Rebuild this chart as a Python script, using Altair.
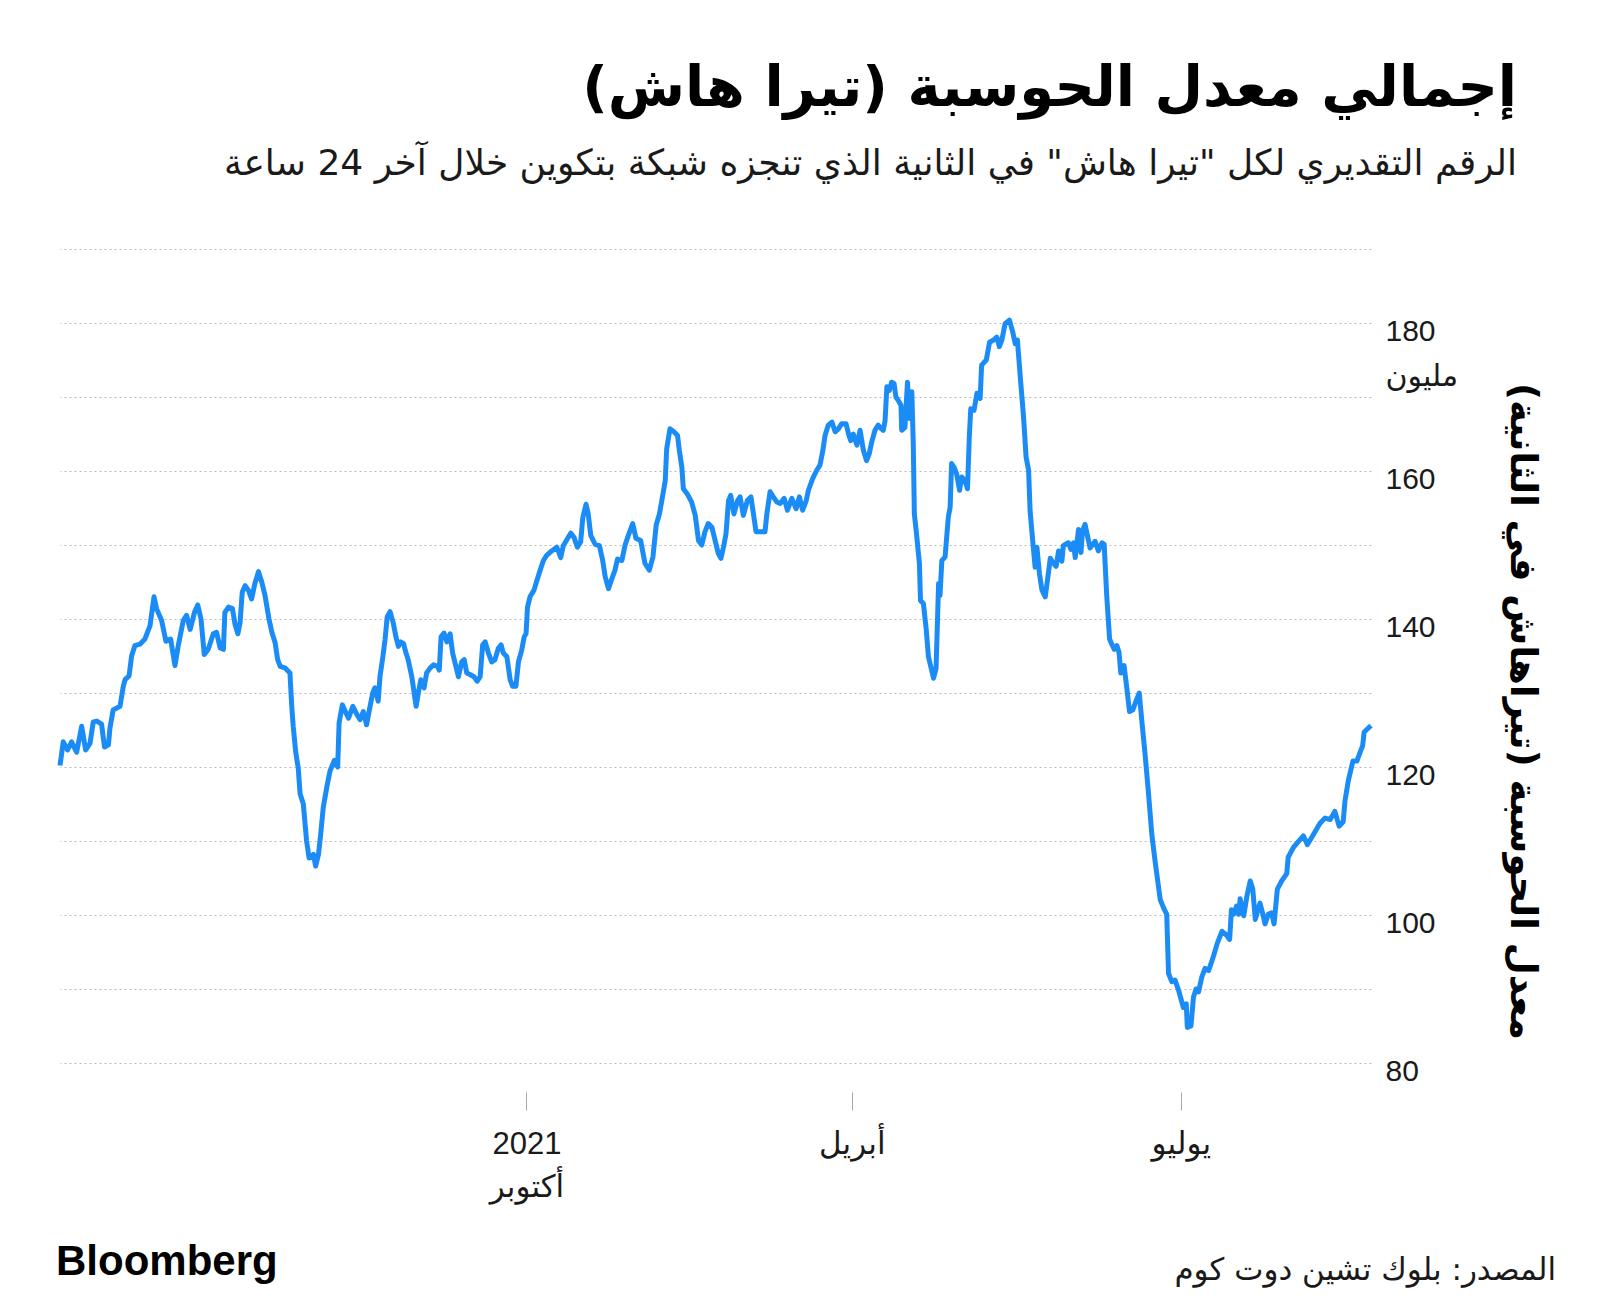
import altair as alt
import pandas as pd

# ---- data ----
START = "2020-08-25"
DAYS = [
    0.0, 0.9, 2.1, 3.2, 4.6, 6.0, 7.1, 8.3, 9.2, 10.2, 11.5, 12.3, 13.4, 13.8, 14.7, 16.6, 17.5, 18.0, 19.1, 19.8,
    20.7, 22.1, 23.5, 24.9, 26.0, 26.7, 28.1, 29.3, 30.6, 31.8, 32.7, 34.1, 35.0, 36.0, 37.2, 38.1, 39.0, 39.9, 41.0,
    42.4, 43.3, 44.3, 45.2, 45.6, 46.6, 47.7, 48.4, 49.2, 49.8, 50.4, 51.2, 52.1, 53.0, 53.9, 54.9, 55.8, 56.7, 57.8,
    58.6, 59.5, 60.2, 60.9, 62.2, 63.6, 64.1, 64.5, 65.2, 65.9, 66.4, 67.3, 68.2, 68.9, 70.1, 70.7, 71.5, 72.1, 72.8,
    73.8, 74.7, 75.9, 76.8, 77.2, 78.1,
    79.1, 79.8, 81.0, 82.1, 83.0, 83.9, 84.8, 85.6, 86.5, 87.1, 88.0, 88.5, 89.3, 89.9, 90.5, 91.3, 92.2, 92.9, 93.6,
    94.2, 95.0, 95.7, 96.3, 97.3, 98.5, 99.1, 99.8, 100.7, 101.4, 102.4, 103.3, 104.4, 104.9, 105.4, 106.2, 107.0,
    107.9, 108.6, 109.5, 110.2, 111.1, 111.8, 112.5, 113.4, 114.5, 115.4, 116.2, 116.9, 117.6, 118.5, 119.4, 120.3,
    121.2, 122.0, 122.6, 123.6, 124.5, 125.2, 126.1, 126.8, 127.7, 128.4, 128.9, 129.3, 130.0, 131.1, 131.9, 132.8,
    133.7, 134.6, 136.0, 137.4, 138.5, 139.2, 140.3, 141.3, 142.2, 143.1, 144.0, 144.6, 145.5, 146.1, 146.8, 148.0,
    149.2, 150.1, 150.8, 151.7, 152.6, 153.5, 154.2,
    155.4, 156.3, 157.2, 158.4, 159.3, 160.6, 161.8, 163.0, 164.0, 164.9, 165.8, 166.7, 167.4, 167.8, 168.7, 169.8,
    170.8, 171.3, 172.0, 172.4, 173.5, 174.7, 175.7, 176.6, 177.5, 178.4, 179.3, 180.3, 181.2, 182.1, 182.8, 183.5,
    184.2, 184.9, 185.5, 186.4, 187.4, 188.1, 189.0, 190.1, 191.1, 191.8, 192.5, 193.4, 195.0, 195.5, 196.4, 197.3,
    198.3, 199.2, 200.3, 201.2, 202.4, 203.6, 204.5, 205.4, 206.4, 207.0, 208.2, 209.3, 210.2, 211.0, 211.6, 212.5,
    213.5, 214.4, 215.3, 216.2, 217.4, 218.1, 218.7, 219.4, 220.4, 221.3, 222.2, 223.1, 223.8, 224.5, 225.4, 226.3,
    226.8, 227.7, 228.2, 228.7, 229.4, 230.0, 230.7, 231.2, 231.9, 232.6, 232.8, 233.7, 234.4, 234.9, 235.6, 236.0,
    236.3, 236.9, 237.7, 238.0, 238.8, 239.6, 240.2, 241.6, 242.3, 243.0, 243.4, 243.9, 244.8, 245.7, 246.2, 246.6,
    247.3, 248.0, 248.8, 249.4, 250.3, 251.0, 251.5, 251.9, 252.8, 253.6, 254.5, 254.9, 256.2, 257.1, 258.2, 259.1,
    259.8, 260.5, 261.4, 262.6, 263.5, 264.2, 264.8, 265.6, 266.5, 267.2, 267.9, 268.3, 269.1, 269.7, 270.2, 270.9,
    271.6, 272.5, 273.0, 273.9, 274.8,
    275.5, 276.2, 277.1, 277.5, 278.9, 279.6, 280.3, 280.8, 281.7, 282.4, 282.8, 283.5, 284.2, 284.9, 286.3, 287.2,
    288.2, 288.8, 289.5, 290.3, 290.9, 291.6, 292.3, 292.9, 293.4, 294.3, 295.1, 295.8, 296.7, 297.6, 298.5, 299.2,
    300.1, 301.0, 302.0, 302.9, 304.3, 305.2, 306.1, 306.6, 307.5, 308.4, 309.4, 310.7, 311.5, 311.8, 312.8, 313.5,
    314.2, 314.9, 315.8, 316.7, 317.7, 319.0,
    320.1, 321.4, 322.6, 323.5, 324.0, 324.6, 325.4, 326.0, 326.4, 327.4, 328.3, 329.2, 329.9, 330.6, 331.2, 331.9,
    332.7, 333.3, 334.2, 335.1, 335.8, 336.7, 337.9, 339.3, 339.7, 341.1, 342.5, 343.9, 345.0, 346.6, 348.5, 349.9,
    351.3, 352.6, 353.8, 354.9, 355.4, 356.3, 357.6, 358.7, 359.6, 360.3, 360.7, 361.5, 362.6,
]
HASHRATE = [
    120.2, 123.4, 122.3, 123.4, 122.0, 125.5, 122.3, 123.2, 126.1, 126.2, 125.8, 122.7, 123.0, 125.2, 127.7, 128.2,
    130.9, 131.8, 132.3, 135.0, 136.4, 136.6, 137.3, 139.1, 143.0, 141.4, 139.8, 137.0, 137.3, 133.7, 136.4, 139.8,
    140.5, 138.6, 140.9, 141.9, 140.0, 135.2, 135.9, 138.0, 138.2, 136.1, 135.9, 140.9, 141.6, 141.4, 139.3, 138.0,
    139.5, 143.6, 144.5, 143.9, 142.7, 144.8, 146.4, 145.0, 143.2, 140.0, 138.2, 136.8, 134.5, 133.6, 133.4, 132.7,
    128.2, 125.5, 122.0, 119.8, 116.4, 115.0, 110.0, 107.7, 108.2, 106.6, 108.2, 110.9, 114.5, 117.3, 119.5, 120.9,
    120.0, 126.0, 128.4,
    127.3, 126.6, 128.2, 127.1, 126.4, 127.5, 125.7, 127.8, 130.0, 130.7, 128.9, 132.2, 134.9, 137.2, 140.3, 141.0,
    139.4, 137.6, 136.3, 136.9, 136.7, 135.4, 134.5, 132.2, 128.2, 130.0, 131.8, 130.7, 132.7, 133.4, 133.8, 133.6,
    133.1, 137.6, 138.1, 136.9, 138.0, 135.4, 133.6, 132.2, 134.2, 134.5, 132.7, 132.5, 132.2, 131.6, 132.2, 136.5,
    136.9, 135.4, 134.2, 134.5, 136.0, 136.5, 135.4, 134.9, 131.8, 130.9, 130.9, 134.2, 135.8, 137.6, 138.0, 141.6,
    143.0, 143.9, 145.2, 146.6, 147.9, 148.6, 149.2, 149.7, 148.3, 149.9, 150.8, 151.6, 151.0, 149.7, 150.4, 153.7,
    155.5, 154.2, 151.3, 150.1, 149.9, 147.9, 145.7, 144.1, 145.4, 146.6, 148.1,
    147.9, 150.0, 151.3, 152.9, 150.9, 150.6, 147.5, 146.6, 148.4, 152.7, 154.2, 156.7, 158.7, 163.0, 165.7, 165.3,
    164.8, 162.8, 160.5, 157.6, 156.9, 155.8, 154.0, 150.6, 150.0, 151.8, 152.9, 152.4, 150.6, 148.8, 148.2, 149.7,
    151.5, 156.0, 156.7, 154.2, 156.0, 156.5, 154.0, 156.0, 156.5, 154.2, 151.8, 151.8, 151.8, 154.2, 157.2, 156.5,
    155.8, 155.6, 156.3, 154.7, 156.3, 154.9, 156.5, 154.7, 156.0, 157.4, 159.0, 160.1, 160.8, 162.8, 164.8, 166.2,
    166.6, 165.3, 165.7, 166.4, 166.4, 165.0, 164.1, 165.0, 163.5, 165.5, 162.8, 161.4, 162.3, 163.9, 165.5, 166.2,
    165.9, 165.5, 166.8, 171.4, 170.9, 172.0, 171.8, 170.0, 169.5, 168.9, 165.5, 165.9, 172.0, 167.1, 170.7, 163.7,
    154.2, 151.5, 147.5, 142.5, 142.1, 138.5, 134.9, 132.0, 133.3, 144.8, 143.2, 147.9, 148.4, 153.8, 155.1, 161.0,
    160.5, 159.6, 157.4, 159.2, 158.7, 157.6, 164.6, 168.4, 168.2, 170.5, 169.8, 174.3, 175.0, 177.4, 177.7, 178.1,
    176.8, 177.7, 179.9, 180.4, 178.8, 177.2, 177.7, 172.7, 167.3, 161.9, 160.1, 154.7, 150.2, 147.0, 149.7, 146.1,
    143.9, 143.0, 144.8, 148.2, 147.5,
    147.1, 149.2, 147.8, 149.9, 150.3, 149.4, 150.3, 148.3, 152.1, 149.0, 151.9, 152.8, 151.2, 149.6, 150.5, 149.2,
    150.3, 150.1, 143.2, 137.3, 136.6, 135.9, 136.4, 135.5, 132.7, 133.7, 130.5, 127.5, 127.7, 128.9, 130.0, 126.3,
    121.8, 116.8, 110.8, 107.2, 102.1, 101.0, 100.1, 92.1, 91.0, 91.2, 89.8, 87.5, 88.0, 84.8, 85.0, 88.9,
    90.0, 89.6, 91.6, 92.8, 92.5, 94.4,
    96.2, 97.8, 97.3, 96.7, 100.7, 100.1, 101.2, 100.1, 102.2, 99.9, 102.6, 104.6, 103.5, 99.4, 100.5, 101.6,
    100.1, 98.8, 100.1, 100.3, 98.8, 103.5, 104.6, 105.6, 107.8, 109.1, 109.9, 110.7, 109.5, 110.8, 112.4, 113.1,
    112.9, 114.0, 112.0, 112.6, 115.4, 118.1, 120.8, 120.8, 122.0, 122.9, 124.7, 125.1, 125.6,
]

TITLE = "إجمالي معدل الحوسبة (تيرا هاش)\u200f"
SUBTITLE = "الرقم التقديري لكل \"تيرا هاش\" في الثانية الذي تنجزه شبكة بتكوين خلال آخر 24 ساعة"
Y_TITLE = "معدل الحوسبة (تيراهاش في الثانية)\u200f"
UNIT = "مليون"
X_LABELS = {"jan": ["2021", "أكتوبر"], "apr": "أبريل", "jul": "يوليو"}
SOURCE = "المصدر: بلوك تشين دوت كوم"
BRAND = "Bloomberg"

df = pd.DataFrame({
    "date": pd.Timestamp(START) + pd.to_timedelta(DAYS, unit="D"),
    "value": HASHRATE,
})

FONT = "Liberation Sans, DejaVu Sans, sans-serif"
AR_FONT = "DejaVu Sans, sans-serif"
W, H = 1311, 814

x_label_expr = (
    "month(datum.value) == 0 ? ['%s', '%s'] : (month(datum.value) == 3 ? '%s' : '%s')"
    % (X_LABELS["jan"][0], X_LABELS["jan"][1], X_LABELS["apr"], X_LABELS["jul"])
)
y_label_expr = (
    "datum.value == 180 ? ['180', '%s'] : (datum.value %% 20 == 0 ? datum.label : '')" % UNIT
)

line = alt.Chart(df).mark_line(color="#1b8cf6", strokeWidth=5, strokeJoin="round").encode(
    x=alt.X(
        "date:T",
        scale=alt.Scale(nice=False),
        axis=alt.Axis(
            orient="bottom",
            values=[
                alt.DateTime(year=2021, month=1, date=1),
                alt.DateTime(year=2021, month=4, date=1),
                alt.DateTime(year=2021, month=7, date=1),
            ],
            labelExpr=x_label_expr,
            grid=False,
            domain=False,
            ticks=True,
            tickSize=18,
            tickColor="#a8a8a8",
            tickWidth=1,
            offset=29,
            labelFont=FONT,
            labelFontSize=31,
            labelColor="#1a1a1a",
            labelPadding=19,
            labelLineHeight=43,
            labelAlign="center",
            labelFlush=False,
            labelOverlap=False,
            title=None,
        ),
    ),
    y=alt.Y(
        "value:Q",
        scale=alt.Scale(domain=[80, 190], nice=False, zero=False),
        axis=alt.Axis(
            orient="right",
            values=list(range(80, 191, 10)),
            labelExpr=y_label_expr,
            grid=True,
            gridColor="#b8b8b8",
            gridDash=[2, 3],
            gridWidth=1,
            domain=False,
            ticks=False,
            labelFont=FONT,
            labelFontSize=30,
            labelColor="#1a1a1a",
            labelAlign="left",
            labelBaseline="alphabetic",
            labelOffset=17,
            labelPadding=14,
            labelLineHeight=45,
            labelFlush=False,
            labelOverlap=False,
            title=Y_TITLE,
            titleFont=AR_FONT,
            titleFontSize=37,
            titleFontWeight="bold",
            titleColor="#000000",
            titleAngle=90,
            titleX=150,
            titleY=462,
            titleAlign="center",
            titleBaseline="middle",
        ),
    ),
)

def text_layer(txt, x, y, size, weight="normal", align="right", font=AR_FONT, color="#111111"):
    return alt.Chart(pd.DataFrame({"t": [txt]})).mark_text(
        align=align, baseline="alphabetic", fontSize=size, fontWeight=weight, font=font, color=color
    ).encode(x=alt.value(x), y=alt.value(y), text="t:N")

title = text_layer(TITLE, 1457, -143, 56, weight="bold", color="#000000")
subtitle = text_layer(SUBTITLE, 1457, -74, 36, color="#1a1a1a")
source = text_layer(SOURCE, 1496, 1031, 31, color="#1a1a1a")
brand = text_layer(BRAND, -4, 1026, 42, weight="bold", align="left", font="Liberation Sans, sans-serif", color="#000000")

chart = alt.layer(line, title, subtitle, source, brand).properties(
    width=W,
    height=H,
    autosize=alt.AutoSizeParams(type="none"),
    padding={"left": 52, "top": 241, "right": 221, "bottom": 244},
    background="#ffffff",
).configure_view(stroke=None)

chart.save("out.html", embed_options={"renderer": "svg", "actions": False})
